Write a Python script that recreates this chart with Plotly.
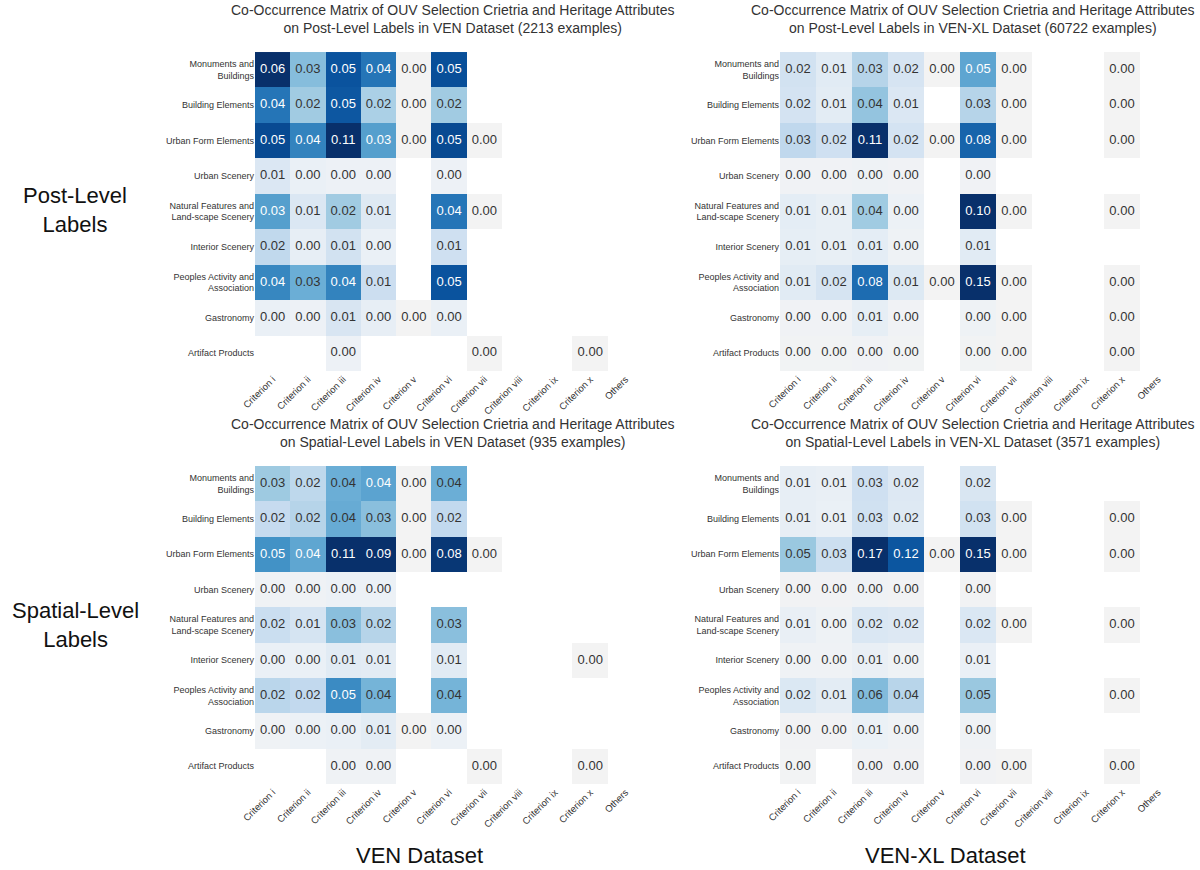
import plotly.graph_objects as go

# Heritage attributes (rows) and OUV selection criteria (columns)
ROWS = [
    "Monuments and<br>Buildings",
    "Building Elements",
    "Urban Form Elements",
    "Urban Scenery",
    "Natural Features and<br>Land-scape Scenery",
    "Interior Scenery",
    "Peoples Activity and<br>Association",
    "Gastronomy",
    "Artifact Products",
]
COLS = ["Criterion i", "Criterion ii", "Criterion iii", "Criterion iv", "Criterion v",
        "Criterion vi", "Criterion vii", "Criterion viii", "Criterion ix", "Criterion x", "Others"]

N = None  # no co-occurrence recorded

# Post-level labels, VEN dataset (2213 examples)
post_ven = [
    [0.060, 0.026, 0.052, 0.044, 0.000, 0.053, N, N, N, N, N],
    [0.044, 0.022, 0.051, 0.020, 0.000, 0.022, N, N, N, N, N],
    [0.054, 0.041, 0.110, 0.034, 0.000, 0.054, 0.000, N, N, N, N],
    [0.008, 0.003, 0.002, 0.002, N, 0.002, N, N, N, N, N],
    [0.034, 0.008, 0.022, 0.007, N, 0.044, 0.000, N, N, N, N],
    [0.016, 0.004, 0.011, 0.003, N, 0.012, N, N, N, N, N],
    [0.040, 0.030, 0.041, 0.013, N, 0.052, N, N, N, N, N],
    [0.003, 0.002, 0.009, 0.004, 0.000, 0.003, N, N, N, N, N],
    [N, N, 0.002, N, N, N, 0.000, N, N, 0.000, N],
]

# Post-level labels, VEN-XL dataset (60722 examples)
post_venxl = [
    [0.018, 0.010, 0.030, 0.016, 0.000, 0.054, 0.000, N, N, 0.000, N],
    [0.017, 0.009, 0.040, 0.013, N, 0.030, 0.000, N, N, 0.000, N],
    [0.027, 0.020, 0.110, 0.017, 0.000, 0.080, 0.000, N, N, 0.000, N],
    [0.002, 0.002, 0.003, 0.002, N, 0.002, N, N, N, N, N],
    [0.008, 0.006, 0.037, 0.004, N, 0.100, 0.000, N, N, 0.000, N],
    [0.007, 0.006, 0.008, 0.003, N, 0.010, N, N, N, N, N],
    [0.010, 0.016, 0.077, 0.012, 0.000, 0.150, 0.000, N, N, 0.000, N],
    [0.002, 0.002, 0.007, 0.002, N, 0.003, 0.000, N, N, 0.000, N],
    [0.001, 0.001, 0.002, 0.001, N, 0.001, 0.000, N, N, 0.000, N],
]

# Spatial-level labels, VEN dataset (935 examples)
spatial_ven = [
    [0.030, 0.022, 0.040, 0.044, 0.000, 0.040, N, N, N, N, N],
    [0.020, 0.024, 0.041, 0.034, 0.000, 0.021, N, N, N, N, N],
    [0.050, 0.043, 0.110, 0.090, 0.000, 0.078, 0.000, N, N, N, N],
    [0.002, 0.002, 0.003, 0.003, N, N, N, N, N, N, N],
    [0.018, 0.013, 0.034, 0.024, N, 0.034, N, N, N, N, N],
    [0.004, 0.004, 0.008, 0.007, N, 0.008, N, N, N, 0.000, N],
    [0.023, 0.021, 0.052, 0.038, N, 0.038, N, N, N, N, N],
    [0.002, 0.003, 0.004, 0.007, 0.000, 0.003, N, N, N, N, N],
    [N, N, 0.002, 0.002, N, N, 0.000, N, N, 0.000, N],
]

# Spatial-level labels, VEN-XL dataset (3571 examples)
spatial_venxl = [
    [0.009, 0.008, 0.028, 0.017, N, 0.020, N, N, N, N, N],
    [0.009, 0.007, 0.027, 0.016, N, 0.026, 0.000, N, N, 0.000, N],
    [0.054, 0.030, 0.170, 0.120, 0.000, 0.150, 0.000, N, N, 0.000, N],
    [0.002, 0.002, 0.003, 0.002, N, 0.002, N, N, N, N, N],
    [0.008, 0.004, 0.019, 0.017, N, 0.019, 0.000, N, N, 0.000, N],
    [0.003, 0.003, 0.008, 0.004, N, 0.007, N, N, N, N, N],
    [0.018, 0.012, 0.062, 0.041, N, 0.054, N, N, N, 0.000, N],
    [0.002, 0.002, 0.006, 0.003, N, 0.003, N, N, N, N, N],
    [0.001, N, 0.002, 0.002, N, 0.002, 0.000, N, N, 0.000, N],
]

PANELS = [
    ("on Post-Level Labels in VEN Dataset (2213 examples)", post_ven, 0.06),
    ("on Post-Level Labels in VEN-XL Dataset (60722 examples)", post_venxl, 0.10),
    ("on Spatial-Level Labels in VEN Dataset (935 examples)", spatial_ven, 0.08),
    ("on Spatial-Level Labels in VEN-XL Dataset (3571 examples)", spatial_venxl, 0.14),
]
TITLE_HEAD = "Co-Occurrence Matrix of OUV Selection Crietria and Heritage Attributes"

BLUES = [
    [0.0, "#f3f3f3"], [0.04, "#ecf1f6"], [0.125, "#dce8f3"], [0.25, "#c6dbef"],
    [0.375, "#9ecae1"], [0.5, "#6baed6"], [0.625, "#4292c6"], [0.75, "#2171b5"],
    [0.875, "#08519c"], [1.0, "#08306b"],
]

FONT = "Liberation Sans, Arial, sans-serif"

# panel layout: (x domain, y domain)
X_DOMS = [(0.2125, 0.536), (0.65, 0.98)]
Y_DOMS = [(0.5736, 0.9402), (0.0989, 0.4644)]
TITLE_SHIFT = [4, -5]

fig = go.Figure()
annotations = []
for k, (subtitle, z, zmax) in enumerate(PANELS):
    r, c = divmod(k, 2)
    sfx = "" if k == 0 else str(k + 1)
    xa, ya = "x" + sfx, "y" + sfx

    fig.add_trace(go.Heatmap(
        z=z, x=COLS, y=ROWS, zmin=0, zmax=zmax, colorscale=BLUES,
        showscale=False, xaxis=xa, yaxis=ya, hoverongaps=False,
    ))

    tx, ty, tt, tc = [], [], [], []
    for i, row in enumerate(z):
        for j, v in enumerate(row):
            if v is None:
                continue
            tx.append(COLS[j])
            ty.append(ROWS[i])
            tt.append(f"{v:.2f}")
            tc.append("#ffffff" if v / zmax > 0.52 else "#333333")
    fig.add_trace(go.Scatter(
        x=tx, y=ty, text=tt, mode="text", xaxis=xa, yaxis=ya,
        textfont=dict(color=tc, size=13, family=FONT),
        hoverinfo="skip", showlegend=False,
    ))

    fig.layout["xaxis" + sfx] = dict(
        domain=X_DOMS[c], anchor=ya, type="category", categoryorder="array",
        categoryarray=COLS, range=[-0.5, len(COLS) - 0.5], tickangle=-45,
        showgrid=False, zeroline=False, showline=False, ticks="", automargin=False,
        tickfont=dict(size=9.5, color="#333333", family=FONT),
    )
    fig.layout["yaxis" + sfx] = dict(
        domain=Y_DOMS[r], anchor=xa, type="category", categoryorder="array",
        categoryarray=ROWS, range=[len(ROWS) - 0.5, -0.5], showgrid=False,
        zeroline=False, showline=False, ticks="", automargin=False,
        tickfont=dict(size=9, color="#333333", family=FONT),
    )

    annotations.append(dict(
        text=TITLE_HEAD + "<br>" + subtitle, xref=xa + " domain", yref=ya + " domain",
        x=0.5, y=1, xanchor="center", yanchor="bottom", yshift=14,
        xshift=TITLE_SHIFT[c], showarrow=False,
        font=dict(size=14, color="#333333", family=FONT),
    ))

for text, x, y in [("Post-Level<br>Labels", 75, 210), ("Spatial-Level<br>Labels", 75, 625),
                   ("VEN Dataset", 419, 855), ("VEN-XL Dataset", 945, 855)]:
    annotations.append(dict(
        text=text, xref="paper", yref="paper", x=x / 1200, y=1 - y / 870,
        xanchor="center", yanchor="middle", showarrow=False,
        font=dict(size=22, color="#111111", family=FONT),
    ))

fig.update_layout(
    width=1200, height=870, margin=dict(l=0, r=0, t=0, b=0),
    paper_bgcolor="white", plot_bgcolor="white",
    annotations=annotations, font=dict(family=FONT),
)

fig.write_html("out.html")
